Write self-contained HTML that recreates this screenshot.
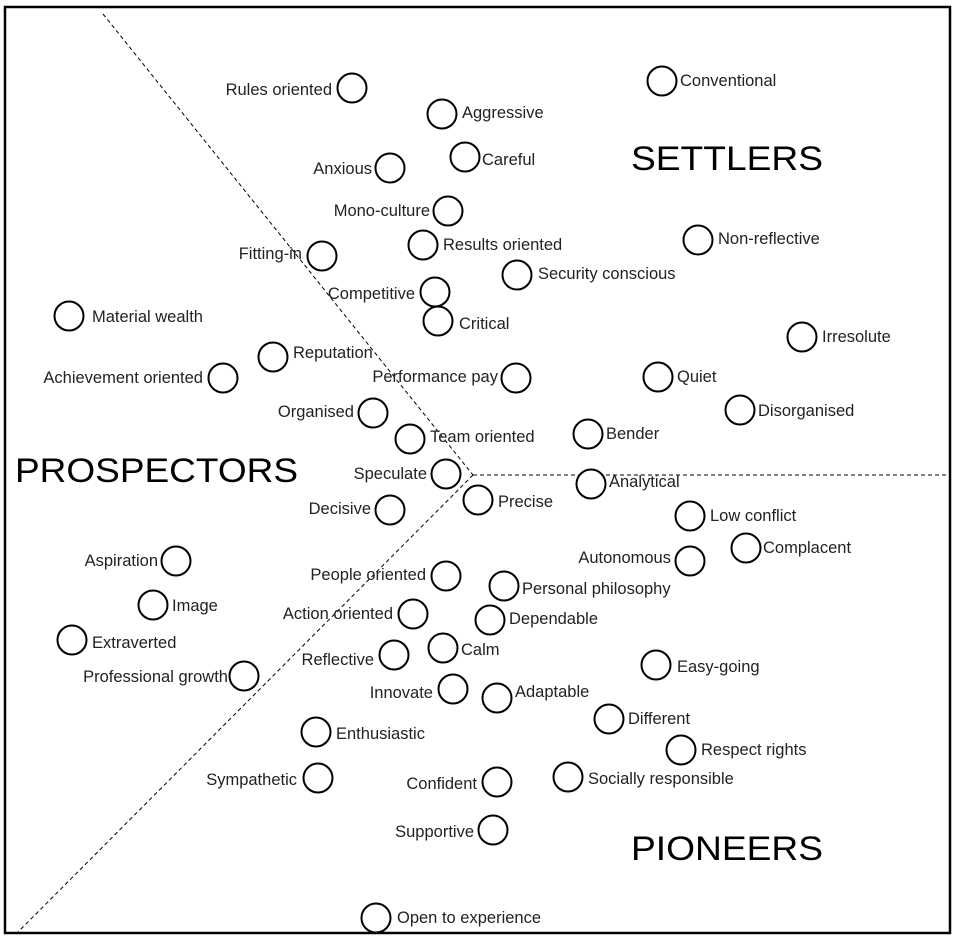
<!DOCTYPE html>
<html><head><meta charset="utf-8"><style>
html,body{margin:0;padding:0;background:#fff;}
svg{display:block;}
text{font-family:"Liberation Sans",sans-serif;font-size:16.5px;fill:#222;}
.big{font-size:34px;fill:#000;}
</style></head><body>
<svg width="959" height="941" viewBox="0 0 959 941" xmlns="http://www.w3.org/2000/svg">
<rect x="5" y="7" width="945" height="926" fill="none" stroke="#000" stroke-width="2.5"/>
<g stroke="#000" stroke-width="1" stroke-dasharray="4,3" fill="none">
<line x1="103" y1="14" x2="473" y2="475"/>
<line x1="473" y1="475" x2="16" y2="934"/>
<line x1="473" y1="475" x2="950" y2="475"/>
</g>
<g fill="#fff" stroke="#000" stroke-width="2">
<circle cx="352" cy="88" r="14.5"/><circle cx="442" cy="114" r="14.5"/><circle cx="465" cy="157" r="14.5"/><circle cx="390" cy="168" r="14.5"/><circle cx="662" cy="81" r="14.5"/><circle cx="448" cy="211" r="14.5"/><circle cx="423" cy="245" r="14.5"/><circle cx="698" cy="240" r="14.5"/><circle cx="322" cy="256" r="14.5"/><circle cx="517" cy="275" r="14.5"/><circle cx="435" cy="292" r="14.5"/><circle cx="438" cy="321" r="14.5"/><circle cx="69" cy="316" r="14.5"/><circle cx="802" cy="337" r="14.5"/><circle cx="273" cy="357" r="14.5"/><circle cx="223" cy="378" r="14.5"/><circle cx="516" cy="378" r="14.5"/><circle cx="658" cy="377" r="14.5"/><circle cx="740" cy="410" r="14.5"/><circle cx="373" cy="413" r="14.5"/><circle cx="410" cy="439" r="14.5"/><circle cx="588" cy="434" r="14.5"/><circle cx="446" cy="474" r="14.5"/><circle cx="591" cy="484" r="14.5"/><circle cx="478" cy="500" r="14.5"/><circle cx="390" cy="510" r="14.5"/><circle cx="690" cy="516" r="14.5"/><circle cx="746" cy="548" r="14.5"/><circle cx="690" cy="561" r="14.5"/><circle cx="176" cy="561" r="14.5"/><circle cx="446" cy="576" r="14.5"/><circle cx="504" cy="586" r="14.5"/><circle cx="153" cy="605" r="14.5"/><circle cx="413" cy="614" r="14.5"/><circle cx="490" cy="620" r="14.5"/><circle cx="72" cy="640" r="14.5"/><circle cx="443" cy="648" r="14.5"/><circle cx="394" cy="655" r="14.5"/><circle cx="656" cy="665" r="14.5"/><circle cx="244" cy="676" r="14.5"/><circle cx="453" cy="689" r="14.5"/><circle cx="497" cy="698" r="14.5"/><circle cx="609" cy="719" r="14.5"/><circle cx="316" cy="732" r="14.5"/><circle cx="681" cy="750" r="14.5"/><circle cx="318" cy="778" r="14.5"/><circle cx="497" cy="782" r="14.5"/><circle cx="568" cy="777" r="14.5"/><circle cx="493" cy="830" r="14.5"/><circle cx="376" cy="918" r="14.5"/>
</g>
<g dominant-baseline="central">
<text x="332" y="90" text-anchor="end">Rules oriented</text>
<text x="462" y="113">Aggressive</text>
<text x="482" y="160">Careful</text>
<text x="372" y="169" text-anchor="end">Anxious</text>
<text x="680" y="81">Conventional</text>
<text x="430" y="211" text-anchor="end">Mono-culture</text>
<text x="443" y="245">Results oriented</text>
<text x="718" y="239">Non-reflective</text>
<text x="302" y="254" text-anchor="end">Fitting-in</text>
<text x="538" y="274">Security conscious</text>
<text x="415" y="294" text-anchor="end">Competitive</text>
<text x="459" y="324">Critical</text>
<text x="92" y="317">Material wealth</text>
<text x="822" y="337">Irresolute</text>
<text x="293" y="353">Reputation</text>
<text x="203" y="378" text-anchor="end">Achievement oriented</text>
<text x="498" y="377" text-anchor="end">Performance pay</text>
<text x="677" y="377">Quiet</text>
<text x="758" y="411">Disorganised</text>
<text x="354" y="412" text-anchor="end">Organised</text>
<text x="430" y="437">Team oriented</text>
<text x="606" y="434">Bender</text>
<text x="427" y="474" text-anchor="end">Speculate</text>
<text x="609" y="482">Analytical</text>
<text x="498" y="502">Precise</text>
<text x="371" y="509" text-anchor="end">Decisive</text>
<text x="710" y="516">Low conflict</text>
<text x="763" y="548">Complacent</text>
<text x="671" y="558" text-anchor="end">Autonomous</text>
<text x="158" y="561" text-anchor="end">Aspiration</text>
<text x="426" y="575" text-anchor="end">People oriented</text>
<text x="522" y="589">Personal philosophy</text>
<text x="172" y="606">Image</text>
<text x="393" y="614" text-anchor="end">Action oriented</text>
<text x="509" y="619">Dependable</text>
<text x="92" y="643">Extraverted</text>
<text x="461" y="650">Calm</text>
<text x="374" y="660" text-anchor="end">Reflective</text>
<text x="677" y="667">Easy-going</text>
<text x="228" y="677" text-anchor="end">Professional growth</text>
<text x="433" y="693" text-anchor="end">Innovate</text>
<text x="515" y="692">Adaptable</text>
<text x="628" y="719">Different</text>
<text x="336" y="734">Enthusiastic</text>
<text x="701" y="750">Respect rights</text>
<text x="297" y="780" text-anchor="end">Sympathetic</text>
<text x="477" y="784" text-anchor="end">Confident</text>
<text x="588" y="779">Socially responsible</text>
<text x="474" y="832" text-anchor="end">Supportive</text>
<text x="397" y="918">Open to experience</text>
</g>
<text class="big" x="631" y="170" textLength="192" lengthAdjust="spacingAndGlyphs">SETTLERS</text>
<text class="big" x="15" y="482" textLength="283" lengthAdjust="spacingAndGlyphs">PROSPECTORS</text>
<text class="big" x="631" y="860" textLength="192" lengthAdjust="spacingAndGlyphs">PIONEERS</text>
</svg>
</body></html>
